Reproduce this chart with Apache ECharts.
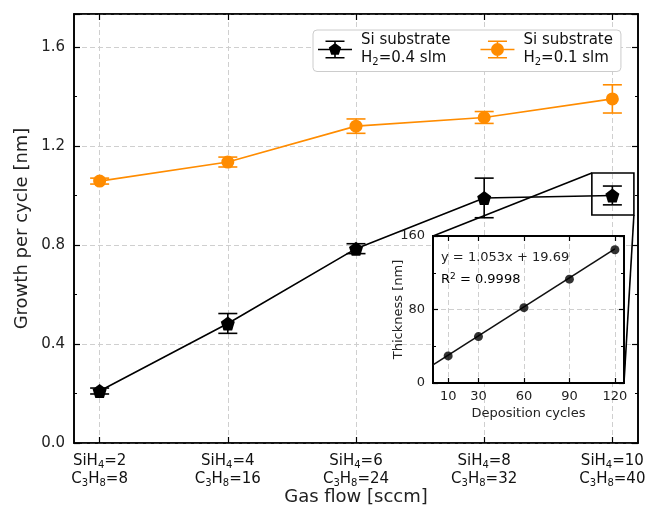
<!DOCTYPE html>
<html><head><meta charset="utf-8">
<script src="https://cdn.jsdelivr.net/npm/echarts@6/dist/echarts.min.js"></script>
<style>html,body{margin:0;padding:0;background:#fff}#c{width:648px;height:508px}</style>
</head><body><div id="c"></div>
<script>
// ---- data ----
const sih4 = [2, 4, 6, 8, 10];
const c3h8 = [8, 16, 24, 32, 40];
const blackVals = [0.21, 0.483, 0.785, 0.99, 1.0];
const blackErr = [0.012, 0.04, 0.02, 0.08, 0.038];
const orangeVals = [1.058, 1.135, 1.28, 1.315, 1.39];
const orangeErr = [0.012, 0.02, 0.029, 0.024, 0.057];
const legendLabels = ['H2=0.4 slm', 'H2=0.1 slm'];
const insetCycles = [10, 30, 60, 90, 120];
const insetThick = [29.5, 50.5, 82, 113, 145];
const fitX = [0, 120];
const fitY = [19.69, 146.05];
const insetXTicks = [10, 30, 60, 90, 120];
const fitText = ['y = 1.053x + 19.69', 'R2 = 0.9998'];
const calloutX = [3.84, 4.168];
const calloutY = [0.921, 1.091];

const FONT = 'DejaVu Sans';
const BLACK = '#000000';
const ORANGE = '#ff8c00';
const pent = 'path://M0,-1 L0.951,-0.309 L0.588,0.809 L-0.588,0.809 L-0.951,-0.309 Z';
const legIconBase = 'M0,8.2 h34 v1.6 h-34 Z M16.2,0 h1.6 v18 h-1.6 Z M7.5,0 h19 v1.6 h-19 Z M7.5,16.4 h19 v1.6 h-19 Z ';
const legIconBlack = 'path://' + legIconBase + 'M17,2.5 L23.18,6.99 L20.82,14.26 L13.18,14.26 L10.82,6.99 Z';
const legIconOrange = 'path://' + legIconBase + 'M10.5,9 A6.5,6.5 0 1 1 23.5,9 A6.5,6.5 0 1 1 10.5,9 Z';

const idx = sih4.map((_, i) => i);
function errRender(color, cap) {
  return function (params, api) {
    const x = api.value(0), y = api.value(1), e = api.value(2);
    const t = api.coord([x, y + e]), b = api.coord([x, y - e]);
    const st = { stroke: color, lineWidth: 1.6 };
    return { type: 'group', children: [
      { type: 'line', shape: { x1: t[0], y1: t[1], x2: b[0], y2: b[1] }, style: st },
      { type: 'line', shape: { x1: t[0] - cap, y1: t[1], x2: t[0] + cap, y2: t[1] }, style: st },
      { type: 'line', shape: { x1: b[0] - cap, y1: b[1], x2: b[0] + cap, y2: b[1] }, style: st }
    ] };
  };
}
const tickStyle = { show: true, inside: true, length: 6, lineStyle: { color: '#000', width: 1.2 } };
const minorStyle = { show: true, splitNumber: 2, length: 3, lineStyle: { color: '#000', width: 1 } };
const gridLine = { show: true, lineStyle: { color: '#cfcfcf', type: [5, 3], width: 1 } };
const axLine = { show: true, onZero: false, lineStyle: { color: '#000', width: 1.6 } };
const inLine = { show: true, onZero: false, lineStyle: { color: '#000', width: 2 } };

function subRich(main, sub, lh) {
  return {
    t: { fontFamily: FONT, fontSize: main, lineHeight: lh, color: '#111' },
    s: { fontFamily: FONT, fontSize: sub, lineHeight: 10, verticalAlign: 'bottom', color: '#111' }
  };
}
function legendFmt(name) {
  const lab = name === 'black' ? legendLabels[0] : legendLabels[1];
  const rest = lab.slice(2);
  return '{t|Si substrate}\n{t|H}{s|2}{t|' + rest + '}';
}

const chart = echarts.init(document.getElementById('c'), null, { renderer: 'canvas' });
const option = {
  animation: false,
  backgroundColor: '#fff',
  textStyle: { fontFamily: FONT },
  grid: [
    { left: 74, top: 14, right: 10, bottom: 65, show: true, borderColor: '#000', borderWidth: 1.6, backgroundColor: 'transparent', outerBoundsMode: 'none', containLabel: false },
    { left: 433, top: 236, width: 191, height: 147, show: true, borderColor: '#000', borderWidth: 2, backgroundColor: '#fff', z: 3, outerBoundsMode: 'none', containLabel: false }
  ],
  legend: {
    left: 313, top: 30,
    data: [{ name: 'black', icon: legIconBlack }, { name: 'orange', icon: legIconOrange }],
    itemWidth: 34, itemHeight: 18, itemGap: 30,
    formatter: legendFmt,
    textStyle: { padding: [0, 0, 0, 4], rich: subRich(15, 10, 18) },
    backgroundColor: '#fff', borderColor: '#cccccc', borderWidth: 1, borderRadius: 4,
    padding: [3, 8, 4, 5],
    selectedMode: false
  },
  xAxis: [
    { type: 'value', gridIndex: 0, min: -0.2, max: 4.2, position: 'bottom',
      axisLine: axLine, axisTick: Object.assign({ customValues: idx }, tickStyle),
      axisLabel: { customValues: idx, margin: 9, formatter: function (v) { const i = Math.round(v); return '{t|SiH}{s|4}{t|=' + sih4[i] + '}\n{t|C}{s|3}{t|H}{s|8}{t|=' + c3h8[i] + '}'; }, rich: subRich(15, 10, 18) },
      splitLine: gridLine,
      name: 'Gas flow [sccm]', nameLocation: 'middle', nameGap: 45, nameMoveOverlap: false, nameTextStyle: { fontFamily: FONT, fontSize: 18, color: '#222' } },
    { type: 'value', gridIndex: 0, min: -0.2, max: 4.2, position: 'top',
      axisLine: axLine, axisTick: Object.assign({ customValues: idx }, tickStyle), axisLabel: { show: false }, splitLine: { show: false } },
    { type: 'value', gridIndex: 1, min: 0, max: 126, position: 'bottom', z: 4,
      axisLine: inLine, axisTick: Object.assign({ customValues: insetXTicks }, tickStyle, { length: 5 }),
      axisLabel: { customValues: insetXTicks, margin: 7, fontFamily: FONT, fontSize: 13, color: '#222' },
      splitLine: gridLine,
      name: 'Deposition cycles', nameLocation: 'middle', nameGap: 24, nameMoveOverlap: false, nameTextStyle: { fontFamily: FONT, fontSize: 13, color: '#222' } },
    { type: 'value', gridIndex: 1, min: 0, max: 126, position: 'top', z: 4,
      axisLine: inLine, axisTick: Object.assign({ customValues: insetXTicks }, tickStyle, { length: 5 }), axisLabel: { show: false }, splitLine: { show: false } }
  ],
  yAxis: [
    { type: 'value', gridIndex: 0, min: 0, max: 1.733, interval: 0.4, position: 'left',
      axisLine: axLine, axisTick: tickStyle, minorTick: minorStyle,
      axisLabel: { showMaxLabel: false, margin: 9, fontFamily: FONT, fontSize: 15, color: '#222', formatter: v => v.toFixed(1) },
      splitLine: gridLine,
      name: 'Growth per cycle [nm]', nameLocation: 'middle', nameGap: 43, nameMoveOverlap: false, nameTextStyle: { fontFamily: FONT, fontSize: 18, color: '#222' } },
    { type: 'value', gridIndex: 0, min: 0, max: 1.733, interval: 0.4, position: 'right',
      axisLine: axLine, axisTick: tickStyle, minorTick: minorStyle, axisLabel: { show: false }, splitLine: { show: false } },
    { type: 'value', gridIndex: 1, min: 0, max: 160, interval: 80, position: 'left', z: 4,
      axisLine: inLine, axisTick: Object.assign({}, tickStyle, { length: 5 }), minorTick: minorStyle,
      axisLabel: { margin: 8, fontFamily: FONT, fontSize: 13, color: '#222' },
      splitLine: gridLine,
      name: 'Thickness [nm]', nameLocation: 'middle', nameGap: 28, nameMoveOverlap: false, nameTextStyle: { fontFamily: FONT, fontSize: 13, color: '#222' } },
    { type: 'value', gridIndex: 1, min: 0, max: 160, interval: 80, position: 'right', z: 4,
      axisLine: inLine, axisTick: Object.assign({}, tickStyle, { length: 5 }), minorTick: minorStyle, axisLabel: { show: false }, splitLine: { show: false } }
  ],
  series: [
    { name: 'orange', type: 'line', xAxisIndex: 0, yAxisIndex: 0, z: 3,
      data: idx.map(i => [i, orangeVals[i]]), symbol: 'circle', symbolSize: 13,
      itemStyle: { color: ORANGE }, lineStyle: { color: ORANGE, width: 1.6 } },
    { name: 'orange-err', type: 'custom', xAxisIndex: 0, yAxisIndex: 0, z: 4,
      data: idx.map(i => [i, orangeVals[i], orangeErr[i]]), renderItem: errRender(ORANGE, 9.5) },
    { name: 'black', type: 'line', xAxisIndex: 0, yAxisIndex: 0, z: 3,
      data: idx.map(i => [i, blackVals[i]]), symbol: pent, symbolSize: 14,
      itemStyle: { color: BLACK }, lineStyle: { color: BLACK, width: 1.6 } },
    { name: 'black-err', type: 'custom', xAxisIndex: 0, yAxisIndex: 0, z: 4,
      data: idx.map(i => [i, blackVals[i], blackErr[i]]), renderItem: errRender(BLACK, 9.5) },
    { name: 'fit', type: 'line', xAxisIndex: 2, yAxisIndex: 2, z: 6, showSymbol: false,
      data: fitX.map((x, i) => [x, fitY[i]]), lineStyle: { color: '#111', width: 1.6 } },
    { name: 'thick', type: 'scatter', xAxisIndex: 2, yAxisIndex: 2, z: 7,
      data: insetCycles.map((x, i) => [x, insetThick[i]]), symbolSize: 9, itemStyle: { color: '#000' } }
  ]
};
chart.setOption(option);

// callout rectangle, connector lines, fit text
const p1 = chart.convertToPixel({ gridIndex: 0 }, [calloutX[0], calloutY[1]]);
const p2 = chart.convertToPixel({ gridIndex: 0 }, [calloutX[1], calloutY[0]]);
const q1 = chart.convertToPixel({ gridIndex: 1 }, [0, 160]);
const q2 = chart.convertToPixel({ gridIndex: 1 }, [126, 0]);
const t1 = chart.convertToPixel({ gridIndex: 1 }, [5.3, 137]);
const t2 = chart.convertToPixel({ gridIndex: 1 }, [5.3, 112]);
const ls = { stroke: '#000', lineWidth: 1.6, fill: null };
chart.setOption({ graphic: [
  { type: 'rect', z: 10, shape: { x: p1[0], y: p1[1], width: p2[0] - p1[0], height: p2[1] - p1[1] }, style: ls },
  { type: 'line', z: 10, shape: { x1: p1[0], y1: p1[1], x2: q1[0], y2: q1[1] }, style: ls },
  { type: 'line', z: 10, shape: { x1: p2[0], y1: p2[1], x2: q2[0], y2: q2[1] }, style: ls },
  { type: 'text', z: 10, x: t1[0], y: t1[1], style: { text: fitText[0], font: '13px "DejaVu Sans"', fill: '#222', verticalAlign: 'middle' } },
  { type: 'text', z: 10, x: t2[0], y: t2[1], style: { text: '{t|R}{u|2}{t|' + fitText[1].slice(2) + '}', verticalAlign: 'middle',
      rich: { t: { fontFamily: FONT, fontSize: 13, lineHeight: 16, color: '#222' }, u: { fontFamily: FONT, fontSize: 9, lineHeight: 10, verticalAlign: 'top', color: '#222' } } } }
] });
</script></body></html>
